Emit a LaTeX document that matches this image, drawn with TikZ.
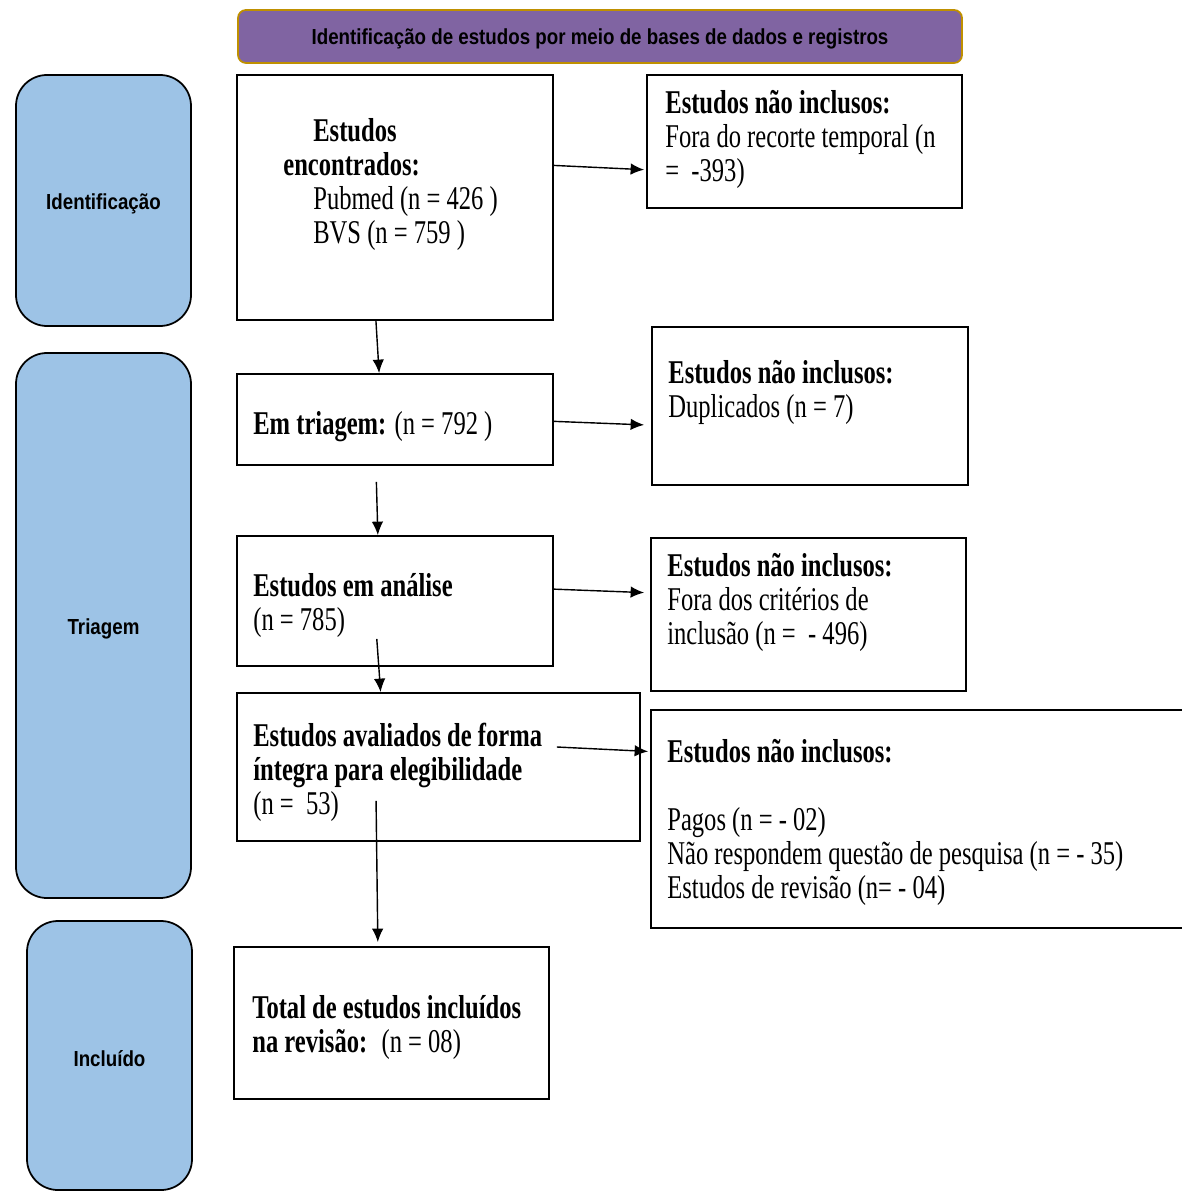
\documentclass[tikz,border=0pt]{standalone}
\usepackage{fontspec}
\setmainfont{Liberation Serif}[FakeStretch=0.74]
\newfontfamily\phasefont{Liberation Sans}[FakeStretch=0.86]
\usetikzlibrary{fit,calc,arrows.meta}
\definecolor{headpurple}{HTML}{8064A2}
\definecolor{headgold}{HTML}{BF9000}
\definecolor{phaseblue}{HTML}{9DC3E6}

\begin{document}
\begin{tikzpicture}[x=0.02cm,y=-0.02cm,
	box/.style={draw,line width=1pt,inner sep=0pt},
	phasefont/.style={font=\phasefont\bfseries\fontsize{12.4}{14}\selectfont,inner sep=0pt,yshift=-0.07cm},
	phase/.style={draw,fill=phaseblue,rounded corners=0.62cm,line width=1pt,inner sep=0pt,
		label={[phasefont]center:#1}},
	txt/.style={anchor=base west,align=left,inner sep=0pt,yshift=-0.05cm,font=\fontsize{18.9}{19.3}\selectfont},
	flow/.style={-{Latex[length=2.7mm,width=2.3mm]},line width=0.8pt}]
	\useasboundingbox (0,0) rectangle (1181,1192);

	% header
	\node[draw=headgold,fill=headpurple,rounded corners=0.16cm,line width=1pt,inner sep=0pt,
		label={[phasefont,yshift=0.03cm]center:Identificação de estudos por meio de bases de dados e registros},
		fit={(238,10) (962,63)}] (head) {};

	% phases
	\node[phase=Identificação,fit={(16,75) (191,326)}] (ident) {};
	\node[phase=Triagem,fit={(16,353) (191,898)}] (triag) {};
	\node[phase=Incluído,fit={(27,921) (192,1190)}] (incl) {};

	% main column
	\node[box,fit={(237,75) (553,320)}] (found) {};
	\node[box,fit={(237,374) (553,465)}] (screen) {};
	\node[box,fit={(237,536) (553,666)}] (analysis) {};
	\node[box,fit={(237,693) (640,841)}] (elig) {};
	\node[box,fit={(234,947) (549,1099)}] (total) {};

	% excluded column
	\node[box,fit={(647,75) (962,208)}] (exc-time) {};
	\node[box,fit={(652,327) (968,485)}] (exc-dup) {};
	\node[box,fit={(651,538) (966,691)}] (exc-crit) {};
	\node[box,fit={(651,710) (1186,928)}] (exc-full) {};

	% texts (placed at the baseline of their last line)
	\node[txt] (found-t) at (283,241) {\hspace*{0.6cm}\textbf{Estudos}\\\textbf{encontrados:}\\
		\hspace*{0.6cm}Pubmed (n = 426 )\\\hspace*{0.6cm}BVS (n = 759 )};
	\node[txt] (screen-t) at (253,432) {\textbf{Em triagem:} (n = 792 )};
	\node[txt] (analysis-t) at (253,628) {\textbf{Estudos em análise}\\(n = 785)};
	\node[txt] (elig-t) at (253,812) {\textbf{Estudos avaliados de forma}\\\textbf{íntegra para elegibilidade}\\(n = \ 53)};
	\node[txt] (total-t) at (252,1050) {\textbf{Total de estudos incluídos}\\\textbf{na revisão:} \ (n = 08)};

	\node[txt] (exc-time-t) at (665,179) {\textbf{Estudos não inclusos:}\\Fora do recorte temporal (n\\= \ -393)};
	\node[txt] (exc-dup-t) at (668,415) {\textbf{Estudos não inclusos:}\\Duplicados (n = 7)};
	\node[txt] (exc-crit-t) at (667,642) {\textbf{Estudos não inclusos:}\\Fora dos critérios de\\inclusão (n = \ - 496)};
	\node[txt] (exc-full-t) at (667,896) {\textbf{Estudos não inclusos:}\\[19.3pt]Pagos (n = - 02)\\
		Não respondem questão de pesquisa (n = - 35)\\Estudos de revisão (n= - 04)};

	% arrows
	\draw[flow,shorten >=0.04cm] ($(found.north east)!0.37!(found.south east)$) -- ($(exc-time.north west)!0.71!(exc-time.south west)$);
	\draw[flow] ($(found.south west)!0.44!(found.south east)$) -- ($(screen.north west)!0.45!(screen.north east)$);
	\draw[flow,shorten >=0.14cm] ($(screen.north east)!0.52!(screen.south east)$) -- ($(exc-dup.north west)!0.62!(exc-dup.south west)$);
	\draw[flow,shorten <=0.32cm] ($(screen.south west)!0.44!(screen.south east)$) -- ($(analysis.north west)!0.446!(analysis.north east)$);
	\draw[flow,shorten >=0.12cm] ($(analysis.north east)!0.41!(analysis.south east)$) -- ($(exc-crit.north west)!0.36!(exc-crit.south west)$);
	\draw[flow,shorten <=-0.56cm] ($(analysis.south west)!0.449!(analysis.south east)$) -- ($(elig.north west)!0.357!(elig.north east)$);
	\draw[flow,shorten >=0.04cm] ($(elig.east)+(-84,-20)$) -- ($(exc-full.north west)!0.193!(exc-full.south west)$);
	\draw[flow,shorten <=-0.82cm,shorten >=0.08cm] ($(elig.south west)!0.347!(elig.south east)$) -- ($(total.north west)!0.457!(total.north east)$);
\end{tikzpicture}
\end{document}
